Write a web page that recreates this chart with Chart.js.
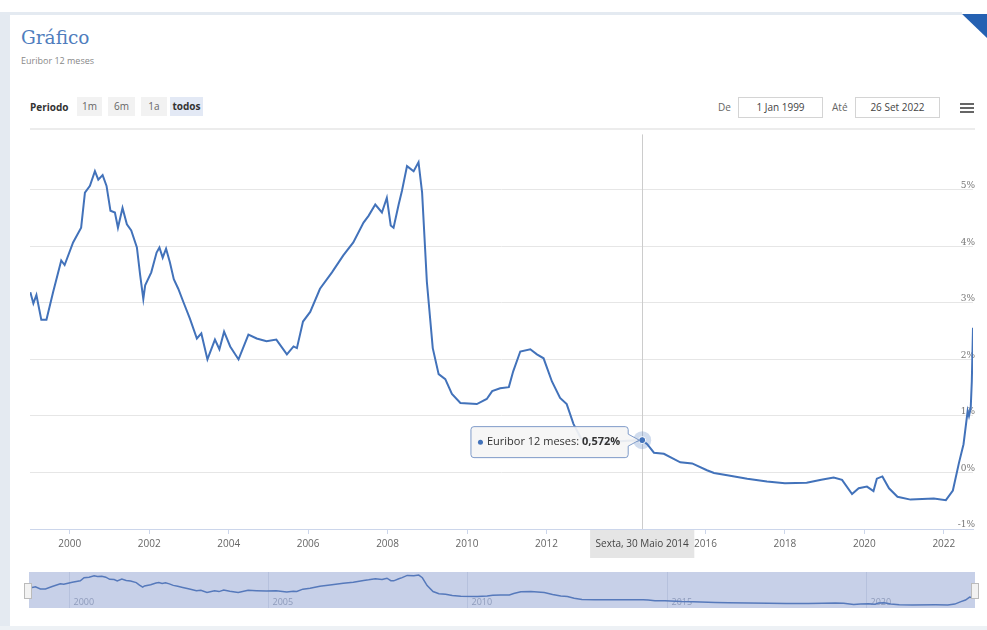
<!DOCTYPE html>
<html>
<head>
<meta charset="utf-8">
<script src="https://cdn.jsdelivr.net/npm/chart.js@4.4.0/dist/chart.umd.min.js"></script>
<style>
  body { margin: 0; width: 987px; height: 630px; background: #fff; position: relative; overflow: hidden; font-family: "Open Sans", sans-serif; }
  .abs { position: absolute; }
  .frame { background: #e4eaf1; }
  .title { left: 21px; top: 27px; font: 18.5px "DejaVu Serif", serif; color: #4f7dbd; }
  .subtitle { left: 21px; top: 54px; font-size: 9px; color: #888; }
  .lbl { top: 100px; font-size: 10px; color: #666; }
  .btn { top: 97px; height: 19px; line-height: 19px; font-size: 10px; color: #666; background: #f2f2f2; text-align: center; }
  .btn.on { background: #e3e9f5; color: #333; font-weight: bold; }
  .inp { top: 97px; width: 83px; height: 19px; line-height: 19px; border: 1px solid #d4d4d4; font-size: 10px; color: #444; text-align: center; }
  .burger { left: 960px; width: 14px; height: 2px; background: #666; }
  .handle { top: 583px; width: 6px; height: 14px; background: #f2f2f2; border: 1px solid #bbb; }
</style>
</head>
<body>
<div class="abs frame" style="left:0;top:12px;width:10px;height:618px"></div>
<div class="abs frame" style="left:0;top:12px;width:962px;height:3px"></div>
<div class="abs frame" style="left:0;top:626px;width:987px;height:4px;background:#edf1f5"></div>
<div class="abs" style="left:962px;top:14px;width:25px;height:24px;background:#2561b2;clip-path:polygon(0 0,100% 0,100% 100%)"></div>

<div class="abs title">Gráfico</div>
<div class="abs subtitle">Euribor 12 meses</div>

<div class="abs lbl" style="left:30px;color:#333;font-weight:bold">Periodo</div>
<div class="abs btn" style="left:77px;width:25px">1m</div>
<div class="abs btn" style="left:108px;width:27px">6m</div>
<div class="abs btn" style="left:141px;width:26px">1a</div>
<div class="abs btn on" style="left:170px;width:33px">todos</div>

<div class="abs lbl" style="left:718px">De</div>
<div class="abs inp" style="left:738px">1 Jan 1999</div>
<div class="abs lbl" style="left:832px">Até</div>
<div class="abs inp" style="left:855px">26 Set 2022</div>
<div class="abs burger" style="top:103px"></div>
<div class="abs burger" style="top:107px"></div>
<div class="abs burger" style="top:111px"></div>

<div class="abs" style="left:30px;top:128px;width:945px;height:2px;background:#ececec"></div>

<div class="abs" style="left:0;top:131px;width:987px;height:430px"><canvas id="mainChart"></canvas></div>
<div class="abs" style="left:29px;top:572px;width:946px;height:36px"><canvas id="navChart"></canvas></div>
<div class="abs handle" style="left:24px"></div>
<div class="abs handle" style="left:971px"></div>

<script>
// Euribor 12 meses
const dates = [
  '1999-01-04','1999-02-01','1999-03-01','1999-04-15','1999-06-01','1999-08-01','1999-10-15','1999-11-15',
  '2000-02-01','2000-04-15','2000-05-20','2000-07-05','2000-08-20','2000-09-20','2000-10-30','2000-12-05',
  '2001-01-10','2001-02-20','2001-03-20','2001-05-01','2001-06-10','2001-07-20','2001-09-10','2001-10-10','2001-11-08','2001-11-25',
  '2002-01-20','2002-03-10','2002-04-05','2002-05-05','2002-06-05','2002-07-10','2002-08-15','2002-09-25','2002-11-10',
  '2003-01-10','2003-03-15','2003-04-25','2003-06-20','2003-08-28','2003-10-08','2003-11-20',
  '2004-01-15','2004-04-01','2004-07-01','2004-09-15','2004-12-15',
  '2005-03-15','2005-06-20','2005-08-20','2005-09-20','2005-11-15',
  '2006-01-20','2006-04-20','2006-08-08','2006-11-20',
  '2007-02-20','2007-05-25','2007-07-10','2007-09-10','2007-11-10','2007-12-25',
  '2008-01-30','2008-02-25','2008-04-12','2008-05-12','2008-06-28','2008-08-28','2008-10-12','2008-11-14','2008-12-28',
  '2009-02-20','2009-04-15','2009-06-15','2009-08-15','2009-11-01',
  '2010-04-01','2010-07-01','2010-08-20','2010-11-01',
  '2011-01-20','2011-03-01','2011-05-05','2011-08-05','2011-10-05','2011-12-05',
  '2012-02-20','2012-05-05','2012-07-05','2012-09-05','2012-11-15',
  '2013-03-15','2013-08-15',
  '2014-01-15','2014-05-30','2014-07-15','2014-09-15','2014-12-15',
  '2015-05-15','2015-09-01',
  '2016-01-15','2016-03-20','2016-07-20',
  '2017-01-20','2017-07-20',
  '2018-01-01','2018-07-20','2018-12-01',
  '2019-03-25','2019-06-10','2019-09-10','2019-11-10',
  '2020-01-25','2020-03-25','2020-04-25','2020-06-15','2020-08-15','2020-11-01',
  '2021-03-01','2021-10-01',
  '2022-01-20','2022-03-25','2022-05-20','2022-07-01','2022-08-08','2022-08-20','2022-09-05','2022-09-15','2022-09-26'
];
const rates = [
  3.19, 2.99, 3.14, 2.70, 2.70, 3.19, 3.75, 3.67,
  4.07, 4.33, 4.95, 5.07, 5.33, 5.18, 5.26, 5.07,
  4.63, 4.60, 4.33, 4.68, 4.39, 4.28, 3.98, 3.49, 3.07, 3.31,
  3.54, 3.89, 3.98, 3.80, 3.96, 3.72, 3.42, 3.25, 3.02,
  2.72, 2.37, 2.46, 2.00, 2.35, 2.18, 2.49,
  2.23, 2.00, 2.44, 2.37, 2.32,
  2.35, 2.09, 2.23, 2.20, 2.67,
  2.84, 3.25, 3.54, 3.84,
  4.07, 4.42, 4.54, 4.74, 4.60, 4.86,
  4.37, 4.33, 4.74, 4.98, 5.42, 5.33, 5.49, 4.95, 3.37,
  2.20, 1.74, 1.65, 1.39, 1.23,
  1.21, 1.30, 1.44, 1.49,
  1.51, 1.79, 2.14, 2.18, 2.09, 2.02,
  1.61, 1.32, 1.21, 0.86, 0.60,
  0.55, 0.54,
  0.56, 0.572, 0.50, 0.35, 0.33,
  0.18, 0.16,
  0.04, -0.01, -0.05,
  -0.11, -0.16,
  -0.19, -0.18, -0.13,
  -0.09, -0.13, -0.38, -0.28,
  -0.25, -0.33, -0.11, -0.07, -0.28, -0.43,
  -0.48, -0.46,
  -0.49, -0.32, 0.17, 0.50, 1.09, 1.00, 1.14, 1.61, 2.56
];
const seriesName = 'Euribor 12 meses';
const xTicks = [2000, 2002, 2004, 2006, 2008, 2010, 2012, 2014, 2016, 2018, 2020, 2022];
const yTicks = [-1, 0, 1, 2, 3, 4, 5];
const navTicks = [2000, 2005, 2010, 2015, 2020];
const rangeStart = '1999-01-01';
const rangeEnd = '2022-09-26';
const hoverDate = '2014-05-30';
const hoverLabel = 'Sexta, 30 Maio 2014';

const lineColor = '#4272ba';

function toYear(s) {
  const [y, m, d] = s.split('-').map(Number);
  const start = Date.UTC(y, 0, 1), end = Date.UTC(y + 1, 0, 1);
  return y + (Date.UTC(y, m - 1, d) - start) / (end - start);
}

const points = dates.map((d, i) => ({ x: toYear(d), y: rates[i] }));
const xMin = toYear(rangeStart), xMax = toYear(rangeEnd);
const hoverIndex = dates.indexOf(hoverDate);

const hoverPlugin = {
  id: 'hover',
  beforeDatasetsDraw(chart) {
    const { ctx, chartArea, scales } = chart;
    const px = Math.round(scales.x.getPixelForValue(points[hoverIndex].x)) + 0.5;
    ctx.save();
    ctx.strokeStyle = '#cccccc';
    ctx.lineWidth = 1;
    ctx.beginPath();
    ctx.moveTo(px, chartArea.top - 4);
    ctx.lineTo(px, chartArea.bottom);
    ctx.stroke();
    ctx.restore();
  },
  afterDraw(chart) {
    const { ctx, chartArea, scales } = chart;
    const p = points[hoverIndex];
    const px = scales.x.getPixelForValue(p.x);
    const py = scales.y.getPixelForValue(p.y);
    ctx.save();

    // halo + marker
    ctx.fillStyle = 'rgba(66,114,186,0.25)';
    ctx.beginPath(); ctx.arc(px, py, 9, 0, Math.PI * 2); ctx.fill();
    ctx.fillStyle = lineColor;
    ctx.strokeStyle = '#fff';
    ctx.lineWidth = 1;
    ctx.beginPath(); ctx.arc(px, py, 3.5, 0, Math.PI * 2); ctx.fill(); ctx.stroke();

    // tooltip box
    const label = seriesName + ': ';
    const value = p.y.toFixed(3).replace('.', ',') + '%';
    ctx.font = '11px "Open Sans"';
    const w1 = ctx.measureText(label).width;
    ctx.font = 'bold 11px "Open Sans"';
    const w2 = ctx.measureText(value).width;
    const boxW = 16 + w1 + w2 + 8;
    const boxH = 31;
    const right = px - 14, left = right - boxW;
    const top = py - boxH / 2 + 2, bottom = top + boxH;
    const r = 3;
    ctx.beginPath();
    ctx.moveTo(left + r, top);
    ctx.lineTo(right - r, top);
    ctx.quadraticCurveTo(right, top, right, top + r);
    ctx.lineTo(right, py - 6);
    ctx.lineTo(px - 3, py);
    ctx.lineTo(right, py + 6);
    ctx.lineTo(right, bottom - r);
    ctx.quadraticCurveTo(right, bottom, right - r, bottom);
    ctx.lineTo(left + r, bottom);
    ctx.quadraticCurveTo(left, bottom, left, bottom - r);
    ctx.lineTo(left, top + r);
    ctx.quadraticCurveTo(left, top, left + r, top);
    ctx.closePath();
    ctx.fillStyle = 'rgba(245,245,245,0.92)';
    ctx.fill();
    ctx.strokeStyle = '#7f9bc9';
    ctx.lineWidth = 1;
    ctx.stroke();

    const ty = (top + bottom) / 2;
    ctx.textBaseline = 'middle';
    ctx.fillStyle = lineColor;
    ctx.beginPath(); ctx.arc(left + 9.5, ty, 2.5, 0, Math.PI * 2); ctx.fill();
    ctx.fillStyle = '#333';
    ctx.font = '11px "Open Sans"';
    ctx.fillText(label, left + 16, ty);
    ctx.font = 'bold 11px "Open Sans"';
    ctx.fillText(value, left + 16 + w1, ty);

    // date label on the x axis
    ctx.font = '10px "Open Sans"';
    const dw = ctx.measureText(hoverLabel).width + 11;
    ctx.fillStyle = '#e5e5e5';
    ctx.fillRect(px - dw / 2, chartArea.bottom + 1, dw, 28);
    ctx.fillStyle = '#444';
    ctx.textAlign = 'center';
    ctx.fillText(hoverLabel, px, chartArea.bottom + 15);
    ctx.restore();
  }
};

new Chart(document.getElementById('mainChart'), {
  type: 'line',
  data: {
    datasets: [{
      label: seriesName,
      data: points,
      borderColor: lineColor,
      borderWidth: 2,
      pointRadius: 0,
      tension: 0,
      fill: false
    }]
  },
  options: {
    responsive: true,
    maintainAspectRatio: false,
    animation: false,
    events: [],
    layout: { padding: { left: 30, right: 14, top: 4, bottom: 0 } },
    plugins: { legend: { display: false }, tooltip: { enabled: false } },
    scales: {
      x: {
        type: 'linear',
        min: xMin,
        max: xMax,
        afterBuildTicks: s => { s.ticks = xTicks.map(v => ({ value: v })); },
        afterFit: s => { s.height = 32; },
        ticks: { callback: v => String(v), color: '#666', font: { size: 10, family: 'Open Sans' }, maxRotation: 0, autoSkip: false, padding: 4 },
        grid: { drawOnChartArea: false, drawTicks: true, tickLength: 5, color: '#ccd6eb' },
        border: { color: '#ccd6eb' }
      },
      y: {
        position: 'right',
        min: -1,
        max: 5.91,
        afterBuildTicks: s => { s.ticks = yTicks.map(v => ({ value: v })); },
        afterFit: s => { s.width = 0; },
        ticks: { mirror: true, padding: 2, labelOffset: -4, color: '#777', font: { size: 9, family: 'DejaVu Serif' }, callback: v => v + '%' },
        grid: { color: '#e6e6e6', drawTicks: false },
        border: { display: false }
      }
    }
  },
  plugins: [hoverPlugin]
});

const navPlugin = {
  id: 'navBg',
  beforeDatasetsDraw(chart) {
    const { ctx, chartArea, scales } = chart;
    ctx.save();
    ctx.fillStyle = '#c7d0e8';
    ctx.fillRect(chartArea.left, chartArea.top, chartArea.right - chartArea.left, chartArea.bottom - chartArea.top);
    ctx.strokeStyle = '#b6c1dd';
    ctx.lineWidth = 1;
    ctx.fillStyle = '#8e9bbb';
    ctx.font = '9px "Open Sans"';
    ctx.textBaseline = 'alphabetic';
    navTicks.forEach(v => {
      const x = Math.round(scales.x.getPixelForValue(v)) + 0.5;
      ctx.beginPath();
      ctx.moveTo(x, chartArea.top);
      ctx.lineTo(x, chartArea.bottom);
      ctx.stroke();
      ctx.fillText(String(v), x + 4, chartArea.bottom - 3);
    });
    ctx.restore();
  }
};

new Chart(document.getElementById('navChart'), {
  type: 'line',
  data: {
    datasets: [{ data: points, borderColor: '#5679bb', borderWidth: 1.5, pointRadius: 0, tension: 0, fill: false }]
  },
  options: {
    responsive: true,
    maintainAspectRatio: false,
    animation: false,
    events: [],
    layout: { padding: 0 },
    plugins: { legend: { display: false }, tooltip: { enabled: false } },
    scales: {
      x: { type: 'linear', min: xMin, max: xMax, display: false },
      y: { min: -1.1, max: 6.1, display: false }
    }
  },
  plugins: [navPlugin]
});
</script>
</body>
</html>
